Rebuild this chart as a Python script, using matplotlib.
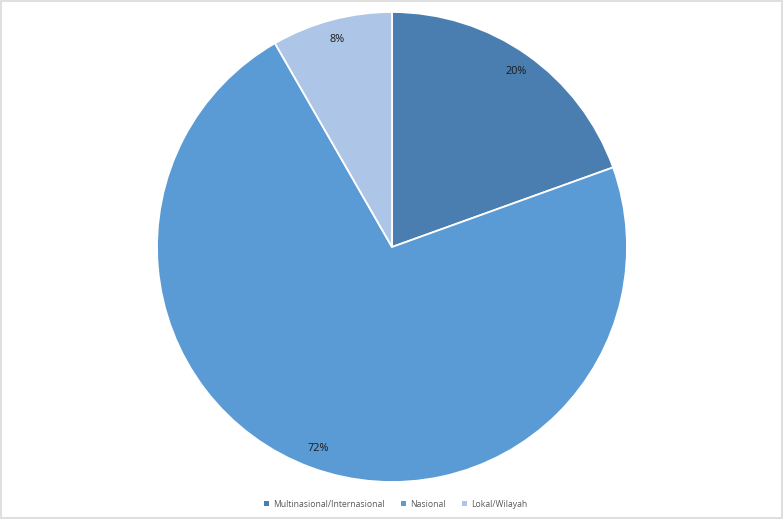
import matplotlib.pyplot as plt
from matplotlib.patches import Rectangle, Patch

# data
labels = ['Multinasional/Internasional', 'Nasional', 'Lokal/Wilayah']
values = [19.5, 72.2, 8.3]
pct_labels = ['20%', '72%', '8%']
colors = ['#4a7eb1', '#5b9bd5', '#adc5e6']

plt.rcParams['font.family'] = ['Open Sans', 'DejaVu Sans']

fig = plt.figure(figsize=(7.84, 5.19), dpi=100)
W, H = 784, 519
cx, cy, r = 392, 247, 235
ax = fig.add_axes([(cx - r) / W, (H - cy - r) / H, 2 * r / W, 2 * r / H])

wedges, texts = ax.pie(values, colors=colors, startangle=90, counterclock=False,
                       labels=pct_labels, labeldistance=0.915,
                       wedgeprops=dict(edgecolor='white', linewidth=1.3),
                       textprops=dict(fontsize=7.8, color='#1a1a1a', ha='center', va='center'))
ax.set_xlim(-1, 1)
ax.set_ylim(-1, 1)
ax.set_aspect('equal')

handles = [Patch(facecolor=c, edgecolor='none') for c in colors]
fig.legend(handles, labels, loc='lower center', bbox_to_anchor=(0.505, 0.005), ncol=3,
           frameon=False, fontsize=6.2, labelcolor='#595959', handlelength=0.55,
           handleheight=0.55, handletextpad=0.5, columnspacing=1.9)

fig.patches.append(Rectangle((0.001, 0.002), 0.997, 0.996, transform=fig.transFigure,
                             fill=False, edgecolor='#d9d9d9', linewidth=1.2))

fig.savefig('out.png', dpi=100)
